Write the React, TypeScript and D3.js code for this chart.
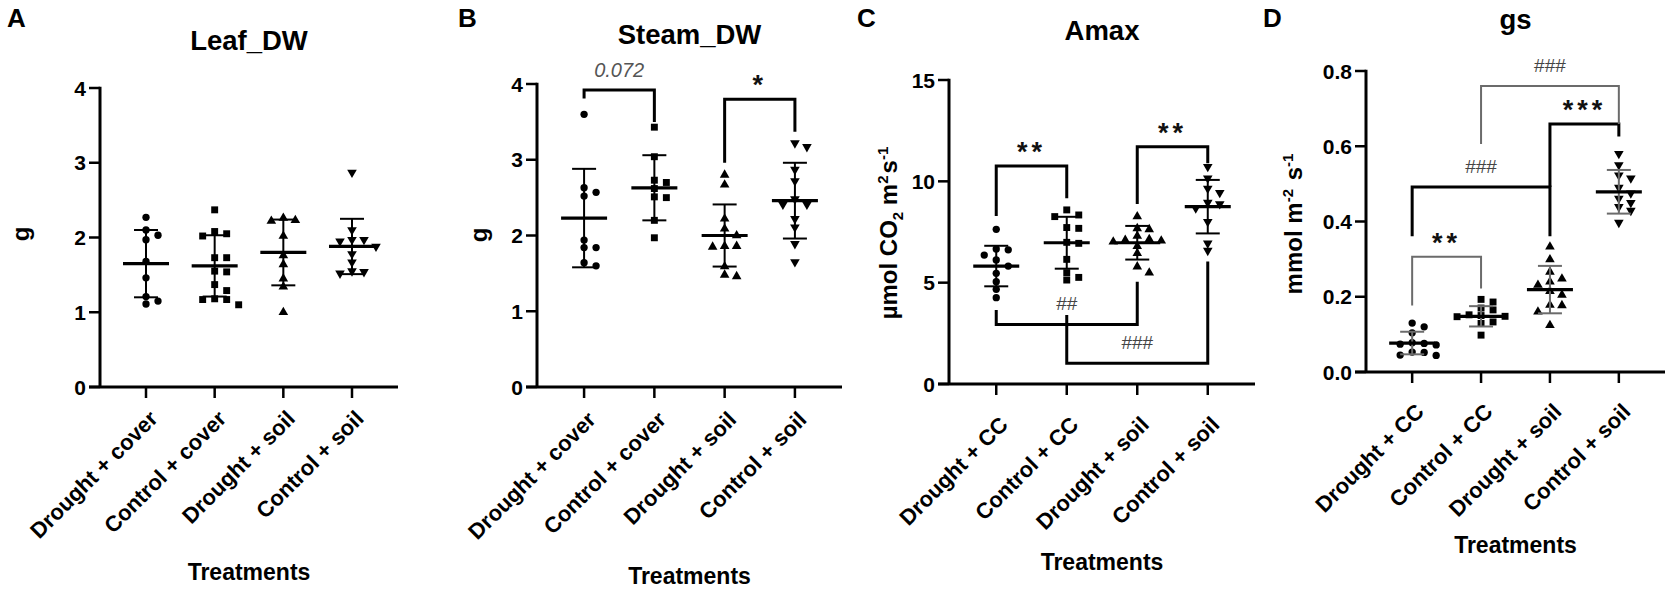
import { format, scaleLinear, scalePoint, symbol, symbolCircle, symbolSquare, symbolTriangle } from 'd3'
import type { ReactNode } from 'react'

const FONT = '"Liberation Sans", Arial, Helvetica, sans-serif'

// categories
const coverCategories = ['Drought + cover', 'Control + cover', 'Drought + soil', 'Control + soil']
const ccCategories = ['Drought + CC', 'Control + CC', 'Drought + soil', 'Control + soil']

// A - Leaf_DW (g)
const leafValues = [
	[2.27, 2.1, 2.03, 1.97, 1.68, 1.46, 1.21, 1.15, 1.11],
	[2.37, 2.08, 2.05, 2.02, 1.73, 1.73, 1.55, 1.54, 1.37, 1.29, 1.18, 1.17, 1.17, 1.1],
	[2.26, 2.23, 2.22, 2.02, 1.76, 1.64, 1.45, 1.34, 1.0],
	[2.87, 2.1, 1.97, 1.97, 1.95, 1.88, 1.78, 1.67, 1.55, 1.54, 1.52],
]
const leafMeans = [1.65, 1.62, 1.8, 1.88]
const leafSD = [0.45, 0.41, 0.44, 0.37]
const leafTicks = [0, 1, 2, 3, 4]

// B - Steam_DW (g)
const stemValues = [
	[3.6, 2.63, 2.57, 2.52, 1.94, 1.84, 1.84, 1.64, 1.6],
	[3.43, 3.04, 2.73, 2.7, 2.62, 2.51, 2.5, 2.2, 1.97],
	[2.8, 2.67, 2.22, 2.09, 2.0, 1.86, 1.86, 1.85, 1.59, 1.48, 1.46],
	[3.22, 3.17, 2.87, 2.72, 2.48, 2.41, 2.41, 2.22, 2.11, 1.89, 1.65],
]
const stemMeans = [2.23, 2.63, 2.0, 2.46]
const stemSD = [0.65, 0.43, 0.41, 0.5]
const stemTicks = [0, 1, 2, 3, 4]
// [from, to, bar, left leg end, right leg end, label]
const stemBrackets: [number, number, number, number, number, string][] = [
	[0, 1, 3.92, 3.81, 3.5, '0.072'],
	[2, 3, 3.8, 2.96, 3.37, '*'],
]

// C - Amax
const amaxValues = [
	[7.63, 6.66, 6.62, 6.36, 6.12, 5.82, 5.46, 5.05, 4.67, 4.26],
	[8.59, 8.34, 8.26, 7.72, 7.68, 6.99, 6.94, 6.15, 5.49, 5.26, 5.13],
	[8.26, 7.68, 7.63, 7.3, 7.14, 7.1, 7.07, 7.02, 6.8, 6.45, 5.79, 5.49],
	[10.72, 10.15, 9.65, 9.44, 8.95, 8.88, 8.67, 8.01, 6.94, 6.58],
]
const amaxMeans = [5.82, 6.97, 6.97, 8.75]
const amaxSD = [1.0, 1.28, 0.83, 1.32]
const amaxTicks = [0, 5, 10, 15]
const amaxBrackets: [number, number, number, number, number, string][] = [
	[0, 1, 10.76, 8.29, 9.16, '**'],
	[2, 3, 11.71, 8.88, 10.89, '**'],
	[0, 2, 2.94, 3.65, 5.05, '##'],
	[1, 3, 1.02, 3.4, 6.04, '###'],
]

// D - gs
const gsValues = [
	[0.13, 0.12, 0.104, 0.078, 0.076, 0.074, 0.072, 0.053, 0.052, 0.045, 0.044],
	[0.193, 0.186, 0.17, 0.165, 0.152, 0.15, 0.148, 0.147, 0.133, 0.129, 0.098],
	[0.333, 0.299, 0.266, 0.248, 0.24, 0.231, 0.215, 0.205, 0.178, 0.177, 0.16, 0.124],
	[0.58, 0.55, 0.523, 0.515, 0.49, 0.475, 0.461, 0.45, 0.439, 0.429, 0.397],
]
const gsMeans = [0.077, 0.148, 0.219, 0.479]
const gsSD = [0.03, 0.027, 0.063, 0.058]
const gsTicks = [0, 0.2, 0.4, 0.6, 0.8]
const gsBrackets: [number, number, number, number, number, string][] = [
	[0, 1, 0.306, 0.177, 0.222, '**'],
	[0, 2, 0.492, 0.361, 0.361, '###'],
	[2, 3, 0.659, 0.492, 0.626, '***'],
	[1, 3, 0.76, 0.606, 0.659, '###'],
]
const gsGreyBrackets = [0, 3]

interface PanelSpec {
	letter: string
	letterX: number
	title: string
	titleY: number
	yLabel: ReactNode
	yLabelX: number
	yLabelY: number
	categories: string[]
	values: number[][]
	means: number[]
	sds: number[]
	ticks: number[]
	tickFormat: (v: number) => string
	x0: number
	x1: number
	yTop: number
	yBottom: number
	catDy: number
	treatY: number
	brackets: [number, number, number, number, number, string][]
	greyBrackets: number[]
	sdColor: string
}

const sup = (t: string) => (
	<>
		<tspan dy={-9} fontSize={15}>
			{t}
		</tspan>
		<tspan dy={9}>{'\u200a'}</tspan>
	</>
)

const panels: PanelSpec[] = [
	{
		letter: 'A', letterX: 7, title: 'Leaf_DW', titleY: 50,
		yLabel: 'g', yLabelX: 29, yLabelY: 234,
		categories: coverCategories, values: leafValues, means: leafMeans, sds: leafSD,
		ticks: leafTicks, tickFormat: format('d'),
		x0: 100, x1: 398, yTop: 88, yBottom: 387, catDy: 33, treatY: 580,
		brackets: [], greyBrackets: [], sdColor: '#000',
	},
	{
		letter: 'B', letterX: 458, title: 'Steam_DW', titleY: 44,
		yLabel: 'g', yLabelX: 487, yLabelY: 235,
		categories: coverCategories, values: stemValues, means: stemMeans, sds: stemSD,
		ticks: stemTicks, tickFormat: format('d'),
		x0: 537, x1: 842, yTop: 84, yBottom: 387, catDy: 34, treatY: 584,
		brackets: stemBrackets, greyBrackets: [], sdColor: '#000',
	},
	{
		letter: 'C', letterX: 857, title: 'Amax', titleY: 40,
		yLabel: (
			<>
				µmol CO
				<tspan dy={6} fontSize={15}>2</tspan>
				<tspan dy={-6}> m</tspan>
				{sup('2')}s{sup('-1')}
			</>
		),
		yLabelX: 897, yLabelY: 232,
		categories: ccCategories, values: amaxValues, means: amaxMeans, sds: amaxSD,
		ticks: amaxTicks, tickFormat: format('d'),
		x0: 949, x1: 1255, yTop: 80, yBottom: 384, catDy: 42, treatY: 570,
		brackets: amaxBrackets, greyBrackets: [], sdColor: '#000',
	},
	{
		letter: 'D', letterX: 1263, title: 'gs', titleY: 29,
		yLabel: (
			<>
				mmol m{sup('-2')} s{sup('-1')}
			</>
		),
		yLabelX: 1302, yLabelY: 223,
		categories: ccCategories, values: gsValues, means: gsMeans, sds: gsSD,
		ticks: gsTicks, tickFormat: format('.1f'),
		x0: 1366, x1: 1665, yTop: 71, yBottom: 372, catDy: 41, treatY: 553,
		brackets: gsBrackets, greyBrackets: gsGreyBrackets, sdColor: '#6b6b6b',
	},
]

const markerPaths = [
	symbol().type(symbolCircle).size(42)() ?? '',
	symbol().type(symbolSquare).size(48)() ?? '',
	symbol().type(symbolTriangle).size(40)() ?? '',
	symbol().type(symbolTriangle).size(40)() ?? '',
]

// simple beeswarm: points too close vertically are pushed into side columns
function swarm(vals: number[], y: (v: number) => number, step: number, gap: number) {
	const order = vals.map((_, i) => i).sort((a, b) => vals[b] - vals[a])
	const placed: { slot: number; py: number }[] = []
	const offsets = new Array(vals.length).fill(0)
	for (const i of order) {
		const py = y(vals[i])
		for (const s of [0, 1, -1, 2, -2, 3, -3]) {
			if (!placed.some((p) => p.slot === s && Math.abs(p.py - py) < gap)) {
				offsets[i] = s * step
				placed.push({ slot: s, py })
				break
			}
		}
	}
	return offsets
}

function Panel({ p }: { p: PanelSpec }) {
	const domainMax = p.ticks[p.ticks.length - 1]
	const y = scaleLinear().domain([0, domainMax]).range([p.yBottom, p.yTop])
	const x = scalePoint<number>()
		.domain(p.categories.map((_, i) => i))
		.range([p.x0, p.x1])
		.padding(0.67)
	const cx = (p.x0 + p.x1) / 2

	return (
		<g>
			<text x={p.letterX} y={27} fontSize={26} fontWeight="bold">
				{p.letter}
			</text>
			<text x={cx} y={p.titleY} fontSize={27.5} fontWeight="bold" textAnchor="middle">
				{p.title}
			</text>
			<text
				transform={`translate(${p.yLabelX}, ${p.yLabelY}) rotate(-90)`}
				fontSize={24}
				fontWeight="bold"
				textAnchor="middle"
			>
				{p.yLabel}
			</text>

			{/* y axis */}
			{p.ticks.map((t) => (
				<g key={t}>
					<line x1={p.x0 - 11} x2={p.x0} y1={y(t)} y2={y(t)} stroke="#000" strokeWidth={2.5} />
					<text x={p.x0 - 14} y={y(t)} dy="0.36em" fontSize={21} fontWeight="bold" textAnchor="end">
						{p.tickFormat(t)}
					</text>
				</g>
			))}
			<line x1={p.x0} x2={p.x0} y1={y(domainMax) - 1.2} y2={p.yBottom} stroke="#000" strokeWidth={3} />
			<line x1={p.x0 - 11} x2={p.x1} y1={p.yBottom} y2={p.yBottom} stroke="#000" strokeWidth={3} />

			{/* x axis */}
			{p.categories.map((c, i) => (
				<g key={c}>
					<line x1={x(i)} x2={x(i)} y1={p.yBottom} y2={p.yBottom + 11} stroke="#000" strokeWidth={2.5} />
					<text
						transform={`translate(${(x(i) ?? 0) + 13}, ${p.yBottom + p.catDy}) rotate(-45)`}
						fontSize={22}
						fontWeight="bold"
						textAnchor="end"
					>
						{c}
					</text>
				</g>
			))}
			<text x={cx} y={p.treatY} fontSize={23} fontWeight="bold" textAnchor="middle">
				Treatments
			</text>

			{/* points, mean and SD */}
			{p.values.map((vals, gi) => {
				const gx = x(gi) ?? 0
				const offs = swarm(vals, y, 12, 7)
				const m = p.means[gi]
				const sd = p.sds[gi]
				return (
					<g key={gi}>
						{vals.map((v, k) => (
							<path
								key={k}
								d={markerPaths[gi]}
								transform={`translate(${gx + offs[k]}, ${y(v)})${gi === 3 ? ' rotate(180)' : ''}`}
								fill="#000"
							/>
						))}
						<line x1={gx} x2={gx} y1={y(m - sd)} y2={y(m + sd)} stroke={p.sdColor} strokeWidth={2} />
						<line x1={gx - 12} x2={gx + 12} y1={y(m - sd)} y2={y(m - sd)} stroke={p.sdColor} strokeWidth={2} />
						<line x1={gx - 12} x2={gx + 12} y1={y(m + sd)} y2={y(m + sd)} stroke={p.sdColor} strokeWidth={2} />
						<line x1={gx - 23} x2={gx + 23} y1={y(m)} y2={y(m)} stroke="#000" strokeWidth={3.2} />
					</g>
				)
			})}

			{/* significance brackets */}
			{p.brackets.map(([a, b, bar, la, lb, label], bi) => {
				const xa = x(a) ?? 0
				const xb = x(b) ?? 0
				const grey = p.greyBrackets.includes(bi)
				const ly = y(bar)
				const mid = (xa + xb) / 2
				const isStar = label.startsWith('*')
				const isHash = label.startsWith('#')
				return (
					<g key={bi}>
						<path
							d={`M${xa},${y(la)}V${ly}H${xb}V${y(lb)}`}
							fill="none"
							stroke={grey ? '#6b6b6b' : '#000'}
							strokeWidth={grey ? 2 : 3}
						/>
						{isStar ? (
							<text x={mid} y={ly - 5} fontSize={27} fontWeight="bold" textAnchor="middle" letterSpacing={4} fill="#111">
								{label}
							</text>
						) : isHash ? (
							<text x={mid} y={ly - 14} fontSize={19} textAnchor="middle" fill="#444">
								{label}
							</text>
						) : (
							<text x={mid} y={ly - 13} fontSize={20} fontStyle="italic" textAnchor="middle" fill="#555">
								{label}
							</text>
						)}
					</g>
				)
			})}
		</g>
	)
}

export default function App() {
	return (
		<div style={{ position: 'absolute', left: 0, top: 0 }}>
			<svg width={1675} height={592} fontFamily={FONT} style={{ display: 'block', background: '#fff' }}>
				{panels.map((p) => (
					<Panel key={p.letter} p={p} />
				))}
			</svg>
		</div>
	)
}
